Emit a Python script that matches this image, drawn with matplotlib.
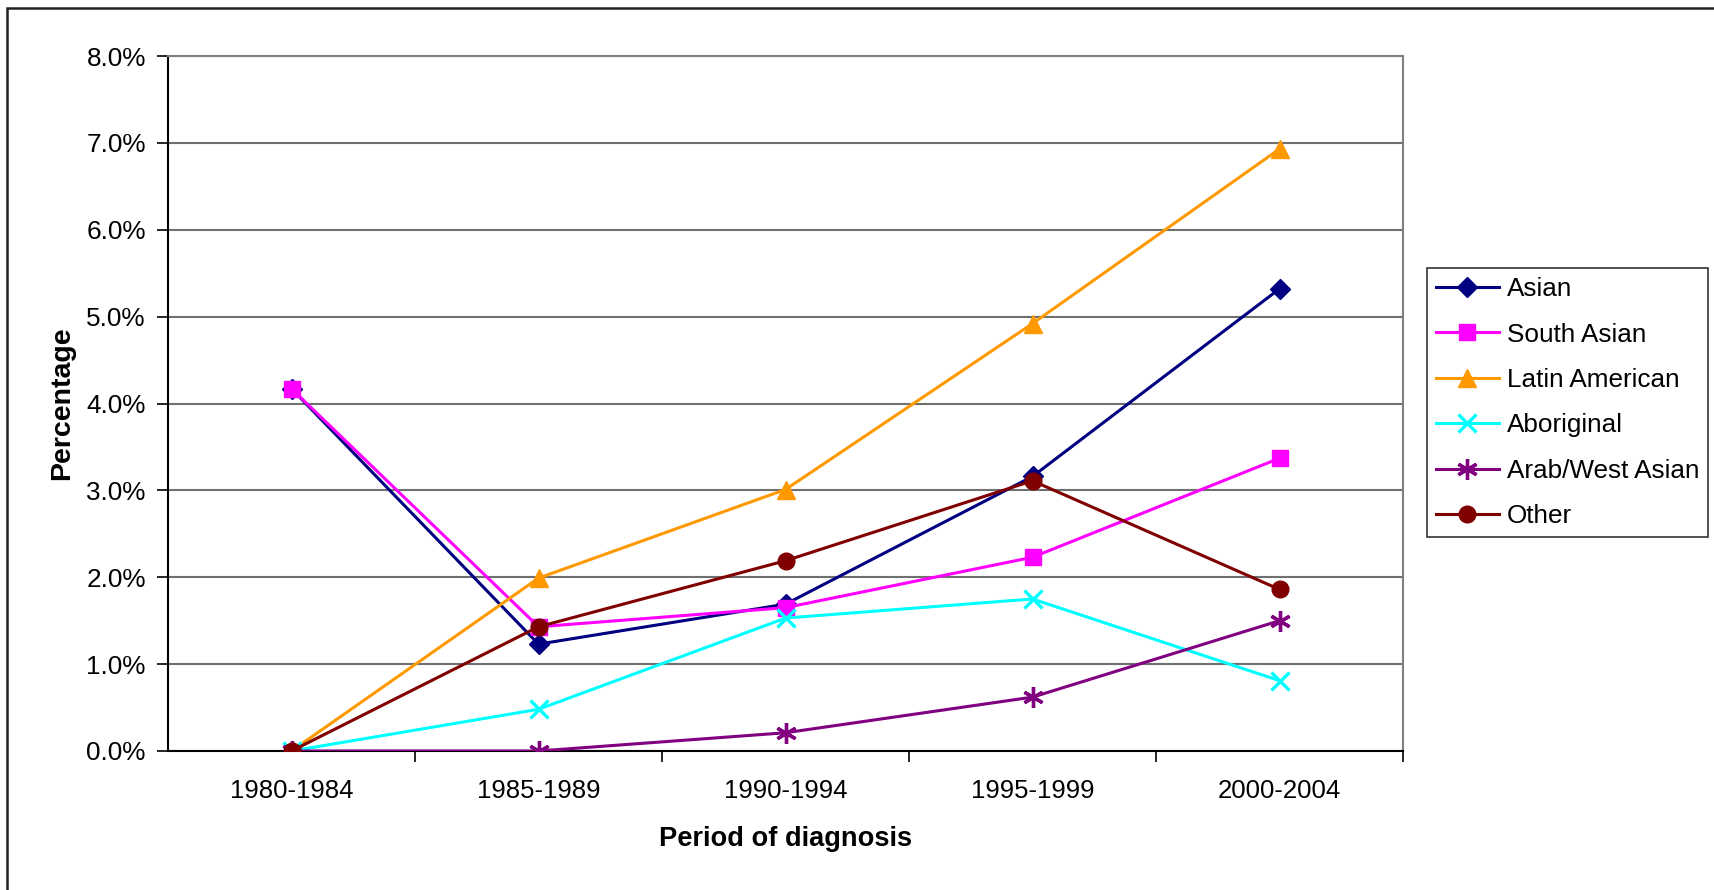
import matplotlib
matplotlib.use('Agg')
import matplotlib.pyplot as plt
from matplotlib.patches import Rectangle
from matplotlib.ticker import FuncFormatter

plt.rcParams['font.family'] = ['Liberation Sans', 'DejaVu Sans']

periods = ['1980-1984', '1985-1989', '1990-1994', '1995-1999', '2000-2004']

asian = [4.17, 1.23, 1.69, 3.16, 5.32]
south_asian = [4.17, 1.43, 1.65, 2.23, 3.37]
latin_american = [0.0, 1.99, 3.01, 4.92, 6.93]
aboriginal = [0.0, 0.48, 1.53, 1.75, 0.81]
arab_west_asian = [0.0, 0.0, 0.21, 0.62, 1.50]
other = [0.0, 1.43, 2.19, 3.11, 1.86]

series = [
    ('Asian', asian, '#000080', 'D', 10),
    ('South Asian', south_asian, '#FF00FF', 's', 11),
    ('Latin American', latin_american, '#FF9900', '^', 13),
    ('Aboriginal', aboriginal, '#00FFFF', 'x', 13),
    ('Arab/West Asian', arab_west_asian, '#800080', (6, 2, 0), 15),
    ('Other', other, '#800000', 'o', 12),
]

fig = plt.figure(figsize=(17.14, 8.9), dpi=100)
ax = fig.add_axes([168 / 1714, 1 - 751 / 890, (1403 - 168) / 1714, (751 - 56) / 890])

x = list(range(len(periods)))
for name, vals, color, marker, ms in series:
    ax.plot(x, vals, color=color, lw=2.2, marker=marker, markersize=ms,
            markeredgewidth=2.4 if marker in ('x', (6, 2, 0)) else 1,
            label=name, zorder=3)

ax.set_xlim(-0.5, len(periods) - 0.5)
ax.set_ylim(0, 8)
ax.set_yticks(range(0, 9))
ax.yaxis.set_major_formatter(FuncFormatter(lambda v, p: f'{v:.1f}%'))
ax.set_xticks(x)
ax.set_xticklabels(periods)
# category boundaries get the tick marks, like Excel
ax.set_xticks([i + 0.5 for i in range(len(periods))], minor=True)
ax.tick_params(axis='x', which='major', length=0, pad=20, labelsize=18.5)
ax.tick_params(axis='x', which='minor', length=8, width=1.2, direction='out')
ax.tick_params(axis='y', length=8, width=1.2, direction='out', pad=8, labelsize=18.8)

ax.grid(axis='y', color='#707070', lw=1.5, zorder=1)
for side in ['left', 'bottom']:
    ax.spines[side].set_color('black')
    ax.spines[side].set_linewidth(1.5)
for side in ['top', 'right']:
    ax.spines[side].set_color('#808080')
    ax.spines[side].set_linewidth(1.5)

ax.set_xlabel('Period of diagnosis', fontsize=19.6, fontweight='bold', labelpad=17)
ax.set_ylabel('Percentage', fontsize=20.5, fontweight='bold', labelpad=8)

leg = ax.legend(loc='upper left', bbox_to_anchor=(1427 / 1714, 1 - 268 / 890),
                bbox_transform=fig.transFigure, frameon=True, fancybox=False,
                edgecolor='black', fontsize=18.8, handlelength=2.4,
                borderaxespad=0, borderpad=0.35, labelspacing=0.82, handletextpad=0.3)
leg.get_frame().set_linewidth(1.2)

# outer chart border (right and bottom edges fall off the image)
fig.patches.append(Rectangle((7 / 1714, -0.1), 1.2, 1 - 8 / 890 + 0.1,
                             transform=fig.transFigure, fill=False,
                             edgecolor='#222222', lw=1.8))

fig.savefig('out.png', dpi=100)
